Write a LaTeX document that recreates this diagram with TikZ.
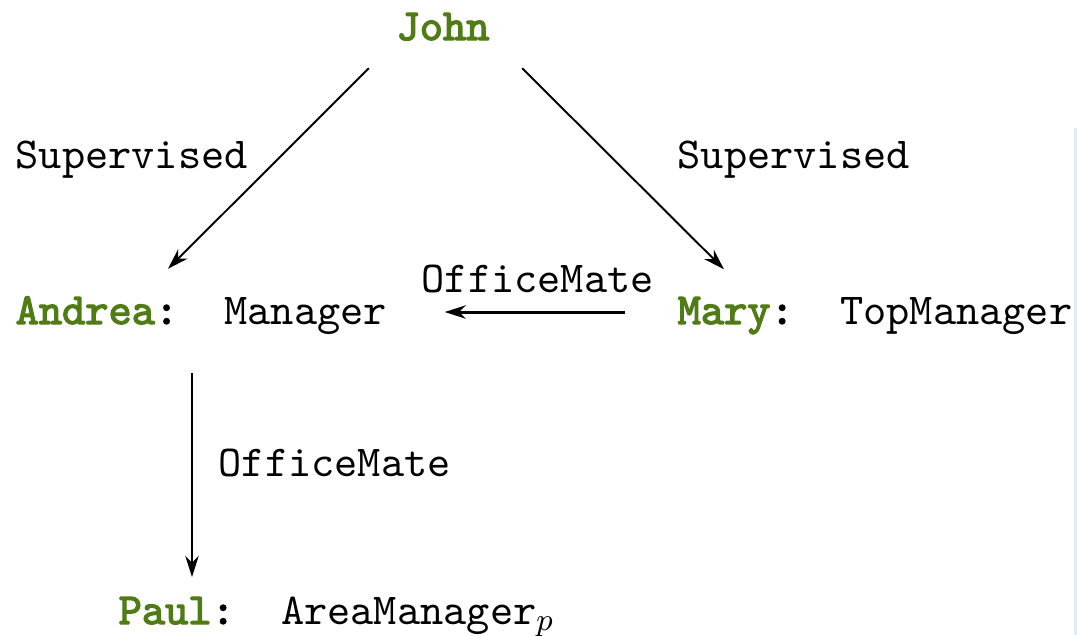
\documentclass[tikz,border=0pt]{standalone}
\usepackage{fontspec}
\setmonofont{lmmono10-regular}[Extension=.otf, BoldFont=lmmono10-regular,
  BoldFeatures={FakeBold=3}]
\usetikzlibrary{arrows.meta, calc}
\definecolor{cName}{RGB}{80,124,22}
\definecolor{cEdge}{RGB}{226,236,248}
% individual name in bold green, colon in bold black
\newcommand{\who}[1]{\textbf{\textcolor{cName}{#1}:}}
\tikzset{
  kblabel/.style={inner sep=0pt, anchor=base west,
                  font=\ttfamily\fontsize{12.57}{15}\selectfont},
  kbperson/.style={kblabel},
  kbarrow/.style={-{Stealth[length=6pt, width=3.8pt]}, line width=0.55pt, black},
  kbarrowthick/.style={kbarrow, line width=0.85pt},
}

\begin{document}
\begin{tikzpicture}[x=0.01cm, y=-0.01cm]
  \useasboundingbox (0,0) rectangle (1077,635);
  \fill[cEdge] (1074,128) rectangle (1077,635);
  % Individuals
  \node[kbperson, anchor=base] (john) at (443,40) {\textbf{\textcolor{cName}{John}}};
  \node[kbperson] (andrea) at (15,324) {\who{Andrea}~~Manager};
  \node[kbperson] (mary) at (677,324) {\who{Mary}~~TopManager};
  \node[kbperson] (paul) at (118,624) {\who{Paul}~~AreaManager$_p$};
  % Role assertions
  \draw[kbarrow] ($(john.south west)+(-27,27)$) -- ($(andrea.north west)+(153,-27)$);
  \draw[kbarrow] ($(john.south east)+(32,27)$) -- ($(mary.north west)+(47,-27)$);
  \draw[kbarrowthick] ($(mary.base west)+(-52,-12)$) -- ($(andrea.base east)+(57,-12)$);
  \draw[kbarrowthick] ($(andrea.base west)+(177,49)$) -- ($(paul.base west)+(74,-47)$);
  % Role names
  \node[kblabel] (supA) at (15,168) {Supervised};
  \node[kblabel] (supM) at (677,168) {Supervised};
  \node[kblabel] (mateM) at (421,292) {OfficeMate};
  \node[kblabel] (mateP) at (218,476) {OfficeMate};
\end{tikzpicture}
\end{document}
